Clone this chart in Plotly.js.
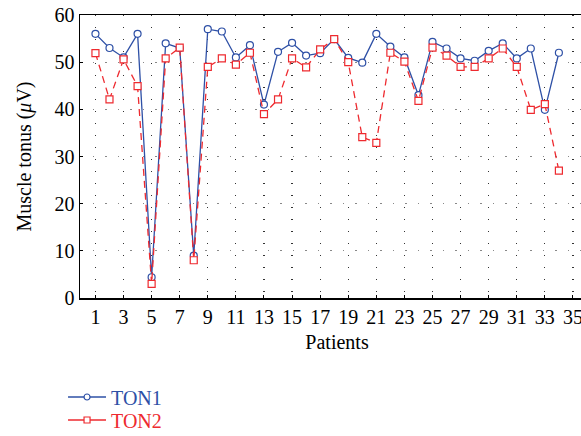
<!DOCTYPE html>
<html>
<head>
<meta charset="utf-8">
<script src="https://cdn.plot.ly/plotly-3.0.1.min.js"></script>
<style>
html,body{margin:0;padding:0;overflow:hidden;background:#fff;}
#chart{width:600px;height:436px;}
</style>
</head>
<body>
<div id="chart"></div>
<script>
const patients = [1,2,3,4,5,6,7,8,9,10,11,12,13,14,15,16,17,18,19,20,21,22,23,24,25,26,27,28,29,30,31,32,33,34];
const ton1 = [56,53,51,56,4.4,54,53,9,57,56.5,51,53.6,41,52.2,54.1,51.4,51.9,54.9,50.9,49.9,56,53.3,51,43,54.3,52.9,50.8,50.3,52.4,54,50.8,52.9,39.9,52];
const ton2 = [51.9,42.1,50.6,44.9,3,50.8,53.1,8,49,50.8,49.5,52,39,42.1,50.8,48.9,52.7,54.9,50,34.1,32.9,52,50.1,41.8,53.1,51.4,49,49,50.8,52.9,49,39.9,41.1,27];
const xTicks = [1,3,5,7,9,11,13,15,17,19,21,23,25,27,29,31,33,35];
const yTicks = [0,10,20,30,40,50,60];
const seriesNames = ['TON1', 'TON2'];

const blue = '#2e50a6';
const red = '#ee2a2f';
const font = 'Liberation Serif, Times New Roman, serif';

const traces = [
  {x: patients, y: ton1, name: seriesNames[0], mode: 'lines+markers', type: 'scatter', showlegend: false,
   line: {color: blue, width: 1.3},
   marker: {symbol: 'circle', size: 7, color: '#fff', line: {color: blue, width: 1.2}}},
  {x: patients, y: ton2, name: seriesNames[1], mode: 'lines+markers', type: 'scatter', showlegend: false,
   line: {color: red, width: 1.3, dash: '7px,5px'},
   marker: {symbol: 'square', size: 7, color: '#fff', line: {color: red, width: 1.2}}},
  // legend entries (solid sample lines as in the reference)
  {x: [null], y: [null], name: '<span style="color:'+blue+'">'+seriesNames[0]+'</span>', mode: 'lines+markers', type: 'scatter',
   legend: 'legend',
   line: {color: blue, width: 1.3},
   marker: {symbol: 'circle', size: 6, color: '#fff', line: {color: blue, width: 1.2}}},
  {x: [null], y: [null], name: '<span style="color:'+red+'">'+seriesNames[1]+'</span>', mode: 'lines+markers', type: 'scatter',
   legend: 'legend2',
   line: {color: red, width: 1.3},
   marker: {symbol: 'square', size: 6, color: '#fff', line: {color: red, width: 1.2}}}
];

const legendBase = {x: -0.033, xanchor: 'left', yanchor: 'middle',
                    bgcolor: 'rgba(0,0,0,0)', font: {family: font, size: 20}, itemwidth: 38};

const layout = {
  width: 600, height: 436,
  margin: {l: 80, r: 6, t: 15, b: 138, autoexpand: false},
  paper_bgcolor: '#fff', plot_bgcolor: '#fff',
  font: {family: font, size: 20, color: '#000'},
  showlegend: true,
  legend: Object.assign({}, legendBase, {y: (298 - 397) / 283}),
  legend2: Object.assign({}, legendBase, {y: (298 - 420) / 283}),
  xaxis: {
    range: [-0.1, 36.5], tickvals: xTicks, ticktext: xTicks.map(String),
    showline: true, linecolor: '#000', linewidth: 1.5, mirror: true,
    ticks: 'inside', ticklen: 3, tickcolor: '#000',
    showgrid: true, gridcolor: '#333', griddash: '1px,11px', gridwidth: 1.2,
    zeroline: false,
    tickfont: {family: font, size: 20},
    title: {text: 'Patients', font: {family: font, size: 20}, standoff: 8}
  },
  yaxis: {
    range: [0, 60], tickvals: yTicks,
    showline: true, linecolor: '#000', linewidth: 1.5, mirror: true,
    ticks: 'inside', ticklen: 3, tickcolor: '#000',
    showgrid: true, gridcolor: '#888', griddash: '1.5px,11px', gridwidth: 1.3,
    zeroline: false,
    tickfont: {family: font, size: 20},
    title: {text: 'Muscle tonus (<i>μ</i>V)', font: {family: font, size: 20}, standoff: 17}
  }
};

Plotly.newPlot('chart', traces, layout, {displayModeBar: false, staticPlot: true});
</script>
</body>
</html>
